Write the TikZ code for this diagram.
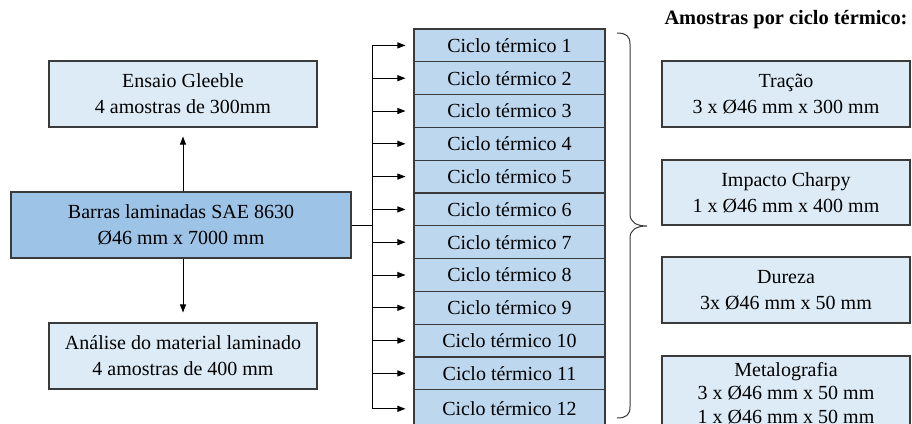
\documentclass[tikz,border=0pt]{standalone}
\usepackage{fontspec}
\setmainfont{Liberation Serif}
\usetikzlibrary{arrows.meta,calc}
\definecolor{lightbox}{HTML}{DDEBF7}
\definecolor{midbox}{HTML}{9DC3E6}
\definecolor{cycbox}{HTML}{BDD7EE}
\definecolor{edge}{HTML}{3A3A3A}
\tikzset{
  box/.style={draw=edge, line width=1.1pt, align=center, inner sep=0pt,
    font=\fontsize{20}{26}\selectfont, text=black},
  cyc/.style={box, fill=cycbox, minimum width=191pt, minimum height=32.8pt},
  arr/.style={-{Triangle[length=8pt,width=6pt]}, line width=0.9pt, black},
}
\begin{document}
\begin{tikzpicture}[x=1pt,y=-1pt]
\clip (0,0) rectangle (912,423);
\fill[white] (0,0) rectangle (912,423);
% left column
\node[box, fill=lightbox, minimum width=268pt, minimum height=66pt] (gl) at (183,94) {Ensaio Gleeble\\4 amostras de 300mm};
\node[box, fill=midbox, minimum width=340pt, minimum height=66pt] (bar) at (181,225) {Barras laminadas SAE 8630\\Ø46 mm x 7000 mm};
\node[box, fill=lightbox, minimum width=268pt, minimum height=66pt] (an) at (183,356) {Análise do material laminado\\4 amostras de 400 mm};
\draw[arr, shorten >=9pt] (bar.north -| gl.south) -- (gl.south);
\draw[arr, shorten >=10pt] (bar.south -| an.north) -- (an.north);
% cycles
\foreach \i in {1,...,11}{
  \node[cyc] (c\i) at (509.5,{29+32.8*(\i-0.5)}) {Ciclo térmico \i};
}
\node[cyc, minimum height=38pt] (c12) at (509.5,408.8) {Ciclo térmico 12};
\coordinate (bus) at (372,225);
\draw[line width=0.9pt] (bar.east) -- (bus);
\draw[line width=0.9pt] (bus |- c1.west) -- (bus |- c12.west);
\foreach \i in {1,...,12}{
  \draw[arr, shorten >=8pt] (bus |- c\i.west) -- (c\i.west);
}
% brace
\draw[line width=1pt, edge] (617,33) .. controls (626,33) and (630,36) .. (630,44)
  -- (630,214) .. controls (630,222) and (636,226) .. (647,226)
  .. controls (636,226) and (630,230) .. (630,238)
  -- (630,407) .. controls (630,415) and (626,418) .. (617,418);
% right column
\node[font=\bfseries\fontsize{20.4}{24}\selectfont, anchor=base] (title) at (786,24) {Amostras por ciclo térmico:};
\node[box, fill=lightbox, minimum width=248pt, minimum height=66pt] (tr) at (786,94) {Tração\\3 x Ø46 mm x 300 mm};
\node[box, fill=lightbox, minimum width=248pt, minimum height=65pt] (ch) at (786,192.5) {Impacto Charpy\\1 x Ø46 mm x 400 mm};
\node[box, fill=lightbox, minimum width=248pt, minimum height=66pt] (du) at (786,290) {Dureza\\3x Ø46 mm x 50 mm};
\node[box, fill=lightbox, minimum width=248pt, minimum height=74pt, font=\fontsize{20}{23.5}\selectfont] (me) at (786,393) {Metalografia\\3 x Ø46 mm x 50 mm\\1 x Ø46 mm x 50 mm};
\end{tikzpicture}
\end{document}
